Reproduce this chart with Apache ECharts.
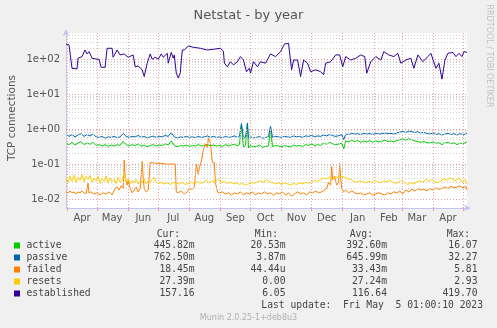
<!DOCTYPE html>
<html>
<head>
<meta charset="utf-8">
<script src="https://cdn.jsdelivr.net/npm/echarts@6/dist/echarts.min.js"></script>
<style>
  html, body { margin: 0; padding: 0; background: #f0f0f0; }
  #chart { width: 497px; height: 328px; }
</style>
</head>
<body>
<div id="chart"></div>
<script>
// Netstat yearly graph: daily averages, day 0 = 2022-03-31, day 400 = 2023-05-05
const startDate = Date.UTC(2022, 2, 31);
const dayCount = 401;
const monthNames = ['Jan','Feb','Mar','Apr','May','Jun','Jul','Aug','Sep','Oct','Nov','Dec'];

const seriesNames = ['active', 'passive', 'failed', 'resets', 'established'];
const seriesColors = ['#00cc00', '#0066b3', '#ff8000', '#ffcc00', '#330099'];

// [day, connections]
const active = [[0,0.40],[3,0.36],[6,0.42],[9,0.35],[12,0.40],[15,0.44],[18,0.36],[21,0.40],[24,0.37],[27,0.42],[30,0.34],[33,0.36],[36,0.33],[39,0.36],[42,0.32],[45,0.35],[48,0.33],[51,0.36],[54,0.34],[57,0.44],[60,0.36],[63,0.33],[66,0.36],[69,0.34],[72,0.38],[75,0.32],[78,0.35],[81,0.31],[84,0.34],[87,0.36],[90,0.33],[93,0.35],[96,0.34],[99,0.38],[102,0.35],[105,0.46],[108,0.34],[111,0.31],[114,0.34],[117,0.33],[120,0.35],[123,0.32],[126,0.34],[129,0.33],[132,0.36],[135,0.33],[138,0.34],[141,0.37],[144,0.33],[147,0.35],[150,0.33],[153,0.34],[156,0.32],[159,0.36],[162,0.33],[165,0.35],[168,0.37],[171,0.33],[173,0.36],[175,1.3],[177,0.30],[179,0.34],[181,1.35],[182,0.29],[184,0.34],[187,0.31],[190,0.32],[193,0.35],[196,0.30],[199,0.32],[202,0.33],[204,1.0],[206,0.32],[209,0.34],[212,0.33],[215,0.31],[218,0.34],[221,0.32],[224,0.31],[227,0.35],[230,0.33],[233,0.34],[236,0.32],[239,0.36],[242,0.34],[245,0.38],[248,0.33],[251,0.36],[254,0.34],[257,0.40],[260,0.37],[263,0.42],[266,0.38],[269,0.36],[273,0.38],[275,0.40],[277,0.27],[279,0.46],[282,0.43],[285,0.48],[288,0.44],[291,0.47],[294,0.42],[297,0.46],[300,0.43],[303,0.47],[306,0.42],[309,0.46],[312,0.43],[315,0.45],[318,0.48],[321,0.44],[324,0.46],[327,0.43],[330,0.47],[333,0.50],[336,0.52],[339,0.48],[342,0.53],[345,0.50],[348,0.46],[351,0.44],[354,0.42],[357,0.44],[360,0.41],[363,0.40],[366,0.43],[369,0.39],[372,0.41],[375,0.36],[378,0.40],[381,0.42],[384,0.38],[387,0.41],[390,0.36],[393,0.40],[396,0.38],[399,0.42],[400,0.446]];

const passive = [[0,0.72],[3,0.62],[6,0.70],[9,0.60],[12,0.68],[15,0.74],[18,0.62],[21,0.70],[24,0.64],[27,0.72],[30,0.60],[33,0.58],[36,0.62],[39,0.55],[42,0.60],[45,0.58],[48,0.62],[51,0.57],[54,0.60],[57,0.75],[60,0.62],[63,0.58],[66,0.62],[69,0.60],[72,0.66],[75,0.58],[78,0.62],[81,0.56],[84,0.60],[87,0.63],[90,0.58],[93,0.62],[96,0.60],[99,0.66],[102,0.62],[105,0.80],[108,0.60],[111,0.56],[114,0.60],[117,0.58],[120,0.62],[123,0.58],[126,0.60],[129,0.57],[132,0.62],[135,0.58],[138,0.60],[141,0.64],[144,0.58],[147,0.62],[150,0.58],[153,0.60],[156,0.57],[159,0.62],[162,0.58],[165,0.60],[168,0.64],[171,0.58],[173,0.62],[175,1.45],[177,0.55],[179,0.58],[181,1.5],[182,0.55],[184,0.60],[187,0.56],[190,0.58],[193,0.62],[196,0.55],[199,0.58],[202,0.60],[204,1.2],[206,0.58],[209,0.62],[212,0.60],[215,0.58],[218,0.62],[221,0.60],[224,0.58],[227,0.64],[230,0.60],[233,0.62],[236,0.58],[239,0.64],[242,0.62],[245,0.66],[248,0.60],[251,0.64],[254,0.62],[257,0.68],[260,0.64],[263,0.70],[266,0.65],[269,0.62],[273,0.66],[275,0.70],[277,0.50],[279,0.72],[282,0.70],[285,0.76],[288,0.72],[291,0.74],[294,0.70],[297,0.76],[300,0.72],[303,0.75],[306,0.70],[309,0.76],[312,0.72],[315,0.74],[318,0.78],[321,0.74],[324,0.76],[327,0.72],[330,0.78],[333,0.82],[336,0.86],[339,0.80],[342,0.88],[345,0.84],[348,0.80],[351,0.84],[354,0.78],[357,0.80],[360,0.76],[363,0.72],[366,0.78],[369,0.70],[372,0.74],[375,0.68],[378,0.72],[381,0.76],[384,0.70],[387,0.74],[390,0.68],[393,0.74],[396,0.70],[399,0.72],[400,0.7625]];

const failed = [[0,0.016],[2,0.015],[4,0.017],[6,0.015],[8,0.016],[10,0.014],[12,0.016],[14,0.015],[16,0.017],[18,0.015],[20,0.014],[22,0.028],[23,0.015],[25,0.016],[28,0.014],[31,0.015],[34,0.013],[37,0.015],[40,0.014],[43,0.016],[46,0.013],[49,0.020],[51,0.022],[53,0.018],[55,0.024],[57,0.020],[58,0.13],[59,0.04],[61,0.025],[62,0.035],[64,0.020],[66,0.015],[68,0.018],[70,0.022],[72,0.016],[74,0.020],[76,0.12],[77,0.040],[78,0.020],[80,0.016],[82,0.018],[84,0.11],[86,0.11],[90,0.105],[95,0.105],[100,0.10],[105,0.10],[109,0.10],[110,0.016],[112,0.015],[115,0.017],[118,0.014],[121,0.016],[123,0.020],[126,0.019],[128,0.022],[130,0.10],[132,0.05],[133,0.08],[135,0.12],[137,0.26],[139,0.38],[141,0.30],[142,0.56],[144,0.40],[146,0.11],[148,0.11],[149,0.030],[151,0.016],[153,0.015],[156,0.016],[159,0.014],[162,0.015],[165,0.013],[168,0.015],[171,0.014],[174,0.016],[177,0.013],[180,0.015],[183,0.014],[186,0.016],[189,0.013],[192,0.015],[195,0.014],[198,0.016],[201,0.014],[204,0.015],[207,0.013],[210,0.015],[213,0.014],[216,0.016],[219,0.013],[222,0.015],[225,0.012],[228,0.014],[231,0.016],[234,0.014],[237,0.015],[240,0.013],[243,0.016],[246,0.015],[249,0.017],[252,0.015],[255,0.016],[258,0.018],[260,0.020],[262,0.030],[264,0.025],[265,0.085],[266,0.035],[268,0.045],[270,0.025],[272,0.030],[273,0.105],[274,0.040],[275,0.020],[277,0.016],[279,0.018],[282,0.015],[285,0.017],[288,0.015],[291,0.014],[294,0.015],[297,0.013],[300,0.014],[303,0.015],[306,0.013],[309,0.014],[312,0.015],[315,0.014],[318,0.013],[321,0.015],[324,0.014],[327,0.016],[330,0.015],[333,0.017],[336,0.014],[339,0.018],[342,0.016],[345,0.019],[348,0.017],[351,0.020],[354,0.018],[357,0.019],[360,0.017],[363,0.020],[366,0.018],[369,0.021],[372,0.019],[375,0.020],[378,0.022],[381,0.020],[384,0.023],[387,0.021],[390,0.022],[393,0.024],[396,0.021],[399,0.023],[400,0.0185]];

const resets = [[0,0.038],[2,0.030],[4,0.045],[6,0.032],[8,0.048],[10,0.030],[12,0.042],[14,0.034],[16,0.050],[18,0.031],[20,0.044],[22,0.036],[24,0.047],[26,0.030],[28,0.040],[30,0.033],[32,0.045],[34,0.028],[36,0.038],[38,0.032],[40,0.046],[42,0.029],[44,0.040],[46,0.031],[48,0.036],[50,0.028],[52,0.042],[54,0.030],[56,0.036],[58,0.055],[60,0.030],[62,0.038],[64,0.027],[66,0.034],[68,0.029],[70,0.036],[72,0.027],[74,0.032],[76,0.030],[78,0.038],[80,0.027],[82,0.033],[84,0.030],[86,0.036],[88,0.042],[90,0.030],[92,0.028],[95,0.030],[98,0.027],[101,0.029],[104,0.026],[107,0.030],[110,0.028],[113,0.027],[116,0.030],[119,0.026],[122,0.028],[125,0.031],[128,0.027],[131,0.032],[134,0.028],[137,0.030],[140,0.035],[143,0.029],[146,0.033],[149,0.030],[152,0.038],[155,0.029],[158,0.032],[161,0.028],[164,0.030],[167,0.027],[170,0.029],[173,0.026],[176,0.028],[179,0.025],[182,0.027],[185,0.030],[188,0.028],[191,0.031],[194,0.033],[197,0.030],[200,0.036],[203,0.031],[206,0.030],[209,0.027],[212,0.029],[215,0.026],[218,0.029],[221,0.027],[224,0.025],[227,0.028],[230,0.026],[233,0.029],[236,0.027],[239,0.030],[242,0.028],[245,0.031],[248,0.034],[251,0.032],[254,0.036],[257,0.040],[260,0.038],[263,0.042],[266,0.036],[269,0.044],[272,0.040],[275,0.045],[278,0.042],[281,0.038],[284,0.036],[287,0.032],[290,0.030],[293,0.033],[296,0.031],[299,0.029],[302,0.032],[305,0.030],[308,0.034],[311,0.031],[314,0.029],[317,0.033],[320,0.031],[323,0.035],[326,0.030],[329,0.028],[332,0.031],[335,0.034],[338,0.029],[341,0.026],[344,0.029],[347,0.027],[350,0.031],[353,0.034],[356,0.030],[359,0.037],[362,0.032],[365,0.036],[368,0.031],[371,0.029],[374,0.033],[377,0.038],[380,0.034],[383,0.040],[386,0.036],[389,0.033],[392,0.041],[395,0.030],[398,0.036],[400,0.0274]];

const established = [[0,274],[3,256],[6,55],[11,53],[12,107],[16,119],[19,184],[21,142],[23,165],[26,107],[31,100],[33,100],[35,59],[39,59],[41,206],[46,206],[47,114],[51,184],[54,133],[58,142],[62,114],[67,133],[69,61],[72,64],[76,50],[78,32],[81,77],[84,142],[86,100],[89,114],[92,100],[95,142],[97,114],[101,148],[102,77],[105,157],[107,107],[108,133],[110,40],[112,29],[114,41],[116,184],[118,184],[122,240],[127,220],[134,206],[141,184],[147,193],[154,206],[157,171],[158,77],[161,61],[164,85],[167,69],[171,85],[174,119],[177,95],[180,44],[183,55],[184,40],[187,85],[191,61],[194,85],[199,77],[204,142],[209,119],[214,165],[218,274],[222,286],[225,50],[227,95],[231,95],[234,32],[237,95],[241,77],[244,44],[249,50],[254,44],[257,36],[259,77],[264,85],[269,133],[273,133],[276,61],[279,119],[284,95],[289,107],[294,133],[298,119],[300,40],[304,85],[309,119],[314,95],[317,165],[322,133],[327,119],[331,148],[334,77],[339,95],[344,107],[347,55],[351,133],[356,85],[361,119],[364,148],[369,55],[372,77],[375,27],[378,95],[381,148],[386,157],[389,119],[392,148],[395,119],[397,165],[400,157.16]];

const seriesData = [active, passive, failed, resets, established];

// Legend table
const legendCur = ['445.82m', '762.50m', '18.45m', '27.39m', '157.16'];
const legendMin = ['20.53m', '3.87m', '44.44u', '0.00', '6.05'];
const legendAvg = ['392.60m', '645.99m', '33.43m', '27.24m', '116.64'];
const legendMax = ['16.07', '32.27', '5.81', '2.93', '419.70'];

const yMin = 0.00553, yMax = 564;

const days = [];
for (let i = 0; i < dayCount; i++) days.push(startDate + i * 86400000);
const dayOfMonth = i => new Date(days[i]).getUTCDate();

// log grid: decades red, 2..9 gray
const majorLines = [], minorLines = [];
for (let e = -3; e <= 2; e++) {
  for (let k = 1; k <= 9; k++) {
    const v = k * Math.pow(10, e);
    if (v < yMin || v > yMax) continue;
    if (k === 1) majorLines.push({ yAxis: v });
    else minorLines.push({ yAxis: v });
  }
}

const gridRed = '#eaa0a0';
const axisBlue = '#c4c4ee';
const textGray = '#555555';
const mono = '"DejaVu Sans Mono", monospace';

const chart = echarts.init(document.getElementById('chart'), null, { renderer: 'canvas' });

const series = [{
  name: 'grid', type: 'line', data: [], silent: true, z: 1,
  markLine: {
    silent: true, symbol: ['none', 'none'], animation: false,
    label: { show: false },
    emphasis: { disabled: true },
    data: [
      ...minorLines.map(d => ({ ...d, lineStyle: { color: '#cfcfcf', type: [1, 2], width: 1 } })),
      ...majorLines.map(d => ({ ...d, lineStyle: { color: gridRed, type: [1, 2], width: 1 } }))
    ]
  }
}];
seriesNames.forEach((name, i) => {
  series.push({
    name, type: 'line', data: seriesData[i], showSymbol: false, symbol: 'none',
    lineStyle: { color: seriesColors[i], width: 1 }, itemStyle: { color: seriesColors[i] },
    animation: false, z: 2 + i
  });
});

const graphics = [];
const rowY = [245.5, 257.5, 269.5, 281.5, 293.5];
const headerY = 234;
[['Cur:', 180], ['Min:', 278], ['Avg:', 373], ['Max:', 470]].forEach(([t, x]) => {
  graphics.push({ type: 'text', x, y: headerY, style: { text: t, font: '9.7px ' + mono, fill: '#444', align: 'right', verticalAlign: 'middle' } });
});
seriesNames.forEach((name, i) => {
  const y = rowY[i];
  graphics.push({ type: 'rect', shape: { x: 14, y: y - 3, width: 6, height: 6 }, style: { fill: seriesColors[i] } });
  graphics.push({ type: 'text', x: 26.5, y, style: { text: name, font: '9.7px ' + mono, fill: '#444', verticalAlign: 'middle' } });
  [[legendCur, 194.5], [legendMin, 285.5], [legendAvg, 387], [legendMax, 477.5]].forEach(([arr, x]) => {
    graphics.push({ type: 'text', x, y, style: { text: arr[i], font: '9.7px ' + mono, fill: '#444', align: 'right', verticalAlign: 'middle' } });
  });
});
graphics.push({ type: 'text', x: 483, y: 305.7, style: { text: 'Last update:  Fri May  5 01:00:10 2023', font: '9.7px ' + mono, fill: '#444', align: 'right', verticalAlign: 'middle' } });
graphics.push({ type: 'text', x: 248.5, y: 317.5, style: { text: 'Munin 2.0.25-1+deb8u3', font: '8px "DejaVu Sans"', fill: '#b0b0b0', align: 'center', verticalAlign: 'middle' } });
graphics.push({ type: 'text', x: 489, y: 56, rotation: -Math.PI / 2, style: { text: 'RRDTOOL / TOBI OETIKER', font: '8px "DejaVu Sans"', fill: '#c0c0c0', align: 'center', verticalAlign: 'middle' } });
graphics.push({ type: 'text', x: 12, y: 118, rotation: Math.PI / 2, style: { text: 'TCP connections', font: '10.5px "DejaVu Sans"', fill: textGray, align: 'center', verticalAlign: 'middle' } });

chart.setOption({
  backgroundColor: '#f0f0f0',
  animation: false,
  title: {
    text: 'Netstat - by year', left: 'center', top: 4,
    textStyle: { fontFamily: 'DejaVu Sans', fontSize: 13, fontWeight: 'normal', color: textGray }
  },
  grid: { left: 66, right: 30, top: 33, bottom: 120, show: true, backgroundColor: '#ffffff', borderWidth: 0 },
  xAxis: {
    type: 'category', data: days, boundaryGap: false,
    axisLine: { show: true, lineStyle: { color: axisBlue, width: 1 }, symbol: ['none', 'arrow'], symbolSize: [5, 7], symbolOffset: [0, 4] },
    axisTick: { show: true, length: 3, interval: (i) => dayOfMonth(i) === 1, lineStyle: { color: gridRed } },
    axisLabel: {
      interval: (i) => dayOfMonth(i) === 16, margin: 5,
      formatter: (v) => monthNames[new Date(+v).getUTCMonth()],
      fontFamily: 'DejaVu Sans', fontSize: 10, color: textGray
    },
    splitLine: { show: true, interval: (i) => dayOfMonth(i) === 1, lineStyle: { color: gridRed, type: [1, 2], width: 1 } }
  },
  yAxis: {
    type: 'log', logBase: 10, min: yMin, max: yMax,
    axisLine: { show: true, lineStyle: { color: axisBlue, width: 1 }, symbol: ['none', 'arrow'], symbolSize: [5, 7], symbolOffset: [0, 4] },
    axisTick: { show: false },
    splitLine: { show: false },
    axisLabel: {
      margin: 6, fontFamily: 'DejaVu Sans', fontSize: 10, color: textGray,
      formatter: (v) => {
        const l = Math.log10(v), e = Math.round(l);
        if (Math.abs(l - e) > 1e-6) return '';
        return '1e' + (e < 0 ? '-' : '+') + String(Math.abs(e)).padStart(2, '0');
      }
    }
  },
  series,
  graphic: graphics
});
</script>
</body>
</html>
